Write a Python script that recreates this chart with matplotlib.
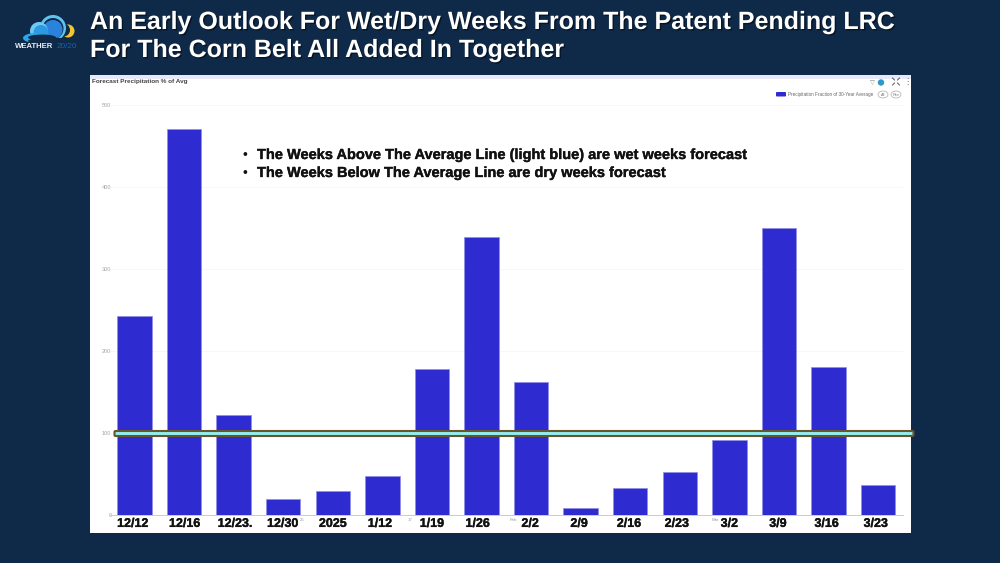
import numpy as np
import matplotlib
matplotlib.use('Agg')
import matplotlib.pyplot as plt
from matplotlib.patches import Rectangle, FancyBboxPatch, Circle, Ellipse
import matplotlib.patheffects as pe

# values
dates = ['12/12', '12/16', '12/23.', '12/30', '2025', '1/12', '1/19', '1/26',
         '2/2', '2/9', '2/16', '2/23', '3/2', '3/9', '3/16', '3/23']
precip_pct = [243, 471, 122, 19, 29, 47, 178, 339, 162, 8, 33, 52, 91, 350, 180, 37]
y_ticks = [0, 100, 200, 300, 400, 500]

title_lines = ['An Early Outlook For Wet/Dry Weeks From The Patent Pending LRC',
               'For The Corn Belt All Added In Together']
notes = ['The Weeks Above The Average Line (light blue) are wet weeks forecast',
         'The Weeks Below The Average Line are dry weeks forecast']

W, H = 1000, 563
bg = '#0f2a49'
bar_col = '#2e2bd1'
plt.rcParams['font.family'] = ['Liberation Sans', 'DejaVu Sans']

fig = plt.figure(figsize=(W / 100, H / 100), dpi=100, facecolor=bg)

# overlay in pixel coordinates for the slide furniture
bgax = fig.add_axes([0, 0, 1, 1], zorder=0)
bgax.set_xlim(0, W)
bgax.set_ylim(H, 0)
bgax.axis('off')
bgax.add_patch(Rectangle((90, 75), 821, 458, fc='white', ec='none'))
bgax.add_patch(Rectangle((90, 75), 821, 4, fc='#e6eaf8', ec='none'))

# chart axes: 0 at y=515px, 500 at y=105px
left, right = 110, 903
ax = fig.add_axes([left / W, (H - 515) / H, (right - left) / W, 410 / H], zorder=1)
ax.patch.set_alpha(0)
step = 49.57
ax.set_xlim((left - 134.5) / step, (right - 134.5) / step)
ax.set_ylim(0, 500)
x = np.arange(len(dates))
ax.bar(x, precip_pct, width=0.695, color=bar_col, edgecolor='#8f8de6', linewidth=0.5, zorder=2)
ax.set_yticks(y_ticks)
ax.set_yticklabels([str(t) for t in y_ticks], fontsize=4, color='#a5a5a5')
ax.tick_params(axis='y', length=0, pad=-1)
ax.set_xticks([])
ax.grid(axis='y', color='#f6f6f6', linewidth=0.6, zorder=0)
for s in ['top', 'right', 'left']:
    ax.spines[s].set_visible(False)
ax.spines['bottom'].set_color('#c8c8de')
ax.spines['bottom'].set_linewidth(0.7)

# bold week labels pasted over the chart, nudged by hand in px
label_offs = [-1.8, 0.6, 1.4, -0.5, 0, -2.4, 0, -3.8, -1, -1.6, -1.2, -3, 0, -1, -1.8, -2.3]
for i, d in enumerate(dates):
    ax.annotate(d, (i, 0), xytext=(label_offs[i] * 0.72, -6.4), textcoords='offset points',
                ha='center', va='center', fontsize=9, fontweight='bold',
                color='#111111', annotation_clip=False, zorder=5,
                path_effects=[pe.withStroke(linewidth=0.25, foreground='#111111')])

# small original axis labels still showing beneath the pasted ones
top = fig.add_axes([0, 0, 1, 1], zorder=2)
top.set_xlim(0, W)
top.set_ylim(H, 0)
top.axis('off')
for px, t in [(302, '25'), (410, '17'), (513, 'Feb'), (715, 'Mar')]:
    top.text(px, 520, t, fontsize=3.2, color='#a0a0a0', ha='center', va='center')

# average line
top.add_patch(FancyBboxPatch((114.5, 431), 799, 5, boxstyle='round,pad=0,rounding_size=1',
                             fc='#93eef0', ec='#66562c', lw=1.5))

# title and notes
for yy, t in zip([22, 50], title_lines):
    top.text(90, yy, t, fontsize=18, fontweight='bold', color='white', va='center',
             path_effects=[pe.withSimplePatchShadow(offset=(1, -1), shadow_rgbFace='black', alpha=0.5)])
for yy, t in zip([155, 173], notes):
    top.text(242.5, yy, '\u2022', fontsize=10, color='#111111', va='center')
    top.text(257, yy, t, fontsize=10.5, fontweight='bold', color='#111111', va='center',
             path_effects=[pe.withStroke(linewidth=0.25, foreground='#111111')])

# chart header
top.text(91.5, 81, 'Forecast Precipitation % of Avg', fontsize=4.6, fontweight='bold',
         color='#444444', va='center')
top.add_patch(FancyBboxPatch((776, 92), 10, 4.5, boxstyle='round,pad=0,rounding_size=1',
                             fc=bar_col, ec='none'))
top.text(788, 94.3, 'Precipitation Fraction of 30-Year Average', fontsize=3.35,
         color='#666666', va='center')
for cx, t in [(883, 'All'), (896, 'Rev')]:
    top.add_patch(Ellipse((cx, 94.5), 10, 7, fc='white', ec='#aaaaaa', lw=0.5))
    top.text(cx, 94.5, t, fontsize=2.8, color='#777777', ha='center', va='center')
top.add_patch(Circle((881, 82.5), 3.2, fc='#2c9ac8', ec='none'))
top.text(872, 82.5, '\u25bd', fontsize=4.5, color='#888888', ha='center', va='center',
         family='DejaVu Sans')
# expand icon, four little corner ticks
for dx, dy in [(-1, -1), (1, -1), (-1, 1), (1, 1)]:
    top.plot([896 + dx * 1.5, 896 + dx * 3.5], [81.5 + dy * 1.5, 81.5 + dy * 3.5],
             color='#555555', lw=0.7)
top.text(907, 81.5, '\u22ee', fontsize=6, color='#666666', ha='center', va='center',
         family='DejaVu Sans')

# logo
top.add_patch(Circle((68, 31), 6.5, fc='#f2c72e', ec='none', zorder=1.1))
top.add_patch(Circle((63.5, 30), 6.5, fc=bg, ec='none', zorder=1.2))
top.add_patch(Circle((53, 28), 13, fc='#62c2ee', ec='none', zorder=1.3))
top.add_patch(Circle((53, 28.5), 10.5, fc=bg, ec='none', zorder=1.4))
top.add_patch(Circle((53, 29.5), 9.5, fc='#2b82dc', ec='none', zorder=1.5))
top.add_patch(Circle((39, 31), 9, fc='#6fc9f1', ec='none', zorder=1.6))
top.add_patch(Circle((41, 32.5), 7.5, fc='#2b9ae2', ec='none', zorder=1.7))
top.add_patch(Ellipse((36, 38), 26, 10, fc='#2ba6ea', ec='none', zorder=1.8))
top.add_patch(Ellipse((42, 37.5), 28, 6, fc=bg, ec='none', zorder=1.9))
top.add_patch(Ellipse((50, 41), 44, 7, fc=bg, ec='none', zorder=1.95))
top.add_patch(Rectangle((17, 41.5), 60, 2.5, fc=bg, ec='none', zorder=2))
top.text(15, 46.5, 'WEATHER', fontsize=5.6, fontweight='bold', color='#e8eef4', va='center', zorder=3)
top.text(57, 46.5, '20/20', fontsize=5.9, color='#1f5fae', va='center', zorder=3)

fig.savefig('out.png', dpi=100, facecolor=bg)
